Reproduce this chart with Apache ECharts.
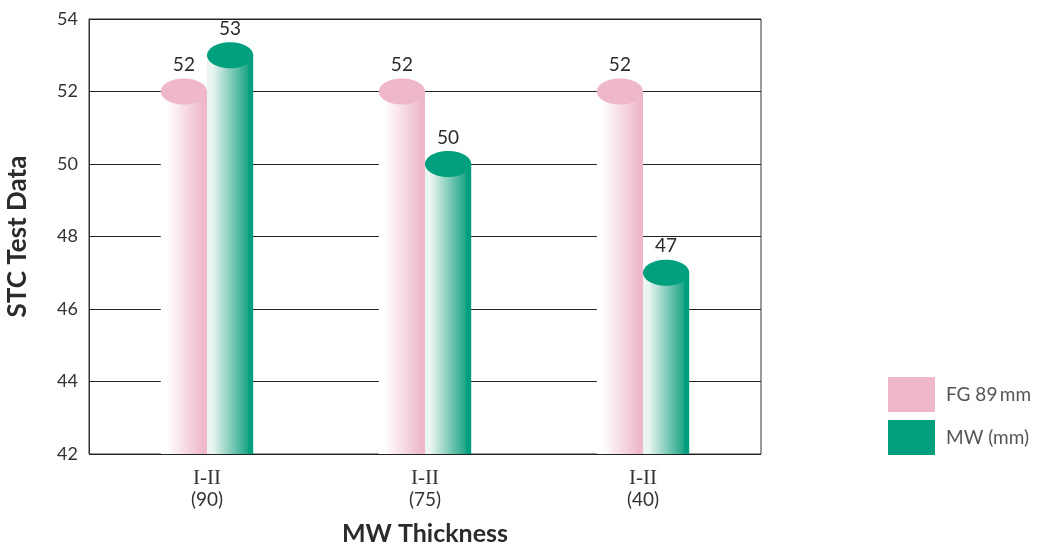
<!DOCTYPE html>
<html><head><meta charset="utf-8">
<script src="https://cdn.jsdelivr.net/npm/echarts@6/dist/echarts.min.js"></script>
<style>html,body{margin:0;padding:0;background:#fff}#c{width:1042px;height:546px}</style>
</head><body><div id="c"></div>
<script>
const categories = ['I-II\n(90)', 'I-II\n(75)', 'I-II\n(40)'];
const fgValues = [52, 52, 52];
const mwValues = [53, 50, 47];
const seriesNames = ['FG 89\u2009mm', 'MW (mm)'];
const yTicks = [42, 44, 46, 48, 50, 52, 54];

const chart = echarts.init(document.getElementById('c'));
const FONT = 'Lato, "Open Sans", sans-serif';
const PINK = '#eeb7cc', GREEN = '#00a07f';

function makeRender(side, light, mid, dark, topColor) {
  return function (params, api) {
    const idx = api.value(0), v = api.value(1);
    const top = api.coord([idx, v]);
    const base = api.coord([idx, yTicks[0]]);
    const band = api.size([1, 0])[0];
    const bw = band * 0.212;
    const x = side < 0 ? top[0] - bw : top[0];
    const ry = 13;
    return {
      type: 'group',
      children: [
        { type: 'rect', shape: { x: x, y: top[1], width: bw, height: base[1] - top[1] },
          style: { fill: new echarts.graphic.LinearGradient(0, 0, 1, 0, [
            { offset: 0, color: light }, { offset: 0.12, color: light },
            { offset: 0.88, color: mid }, { offset: 0.9, color: dark }, { offset: 1, color: dark }]) } },
        { type: 'ellipse', shape: { cx: x + bw / 2, cy: top[1], rx: bw / 2, ry: ry },
          style: { fill: topColor } },
        { type: 'text', style: { text: String(v), x: x + bw / 2, y: top[1] - ry - 4,
          align: 'center', verticalAlign: 'bottom', fill: '#2b2b2b', fontSize: 19, fontFamily: FONT } }
      ]
    };
  };
}

chart.setOption({
  animation: false,
  legend: {
    orient: 'vertical', left: 888, top: 377, padding: 0, itemWidth: 47, itemHeight: 35, itemGap: 8,
    icon: 'rect', textStyle: { fontSize: 19, color: '#555', fontFamily: FONT, padding: [0, 0, 0, 6] },
    data: seriesNames
  },
  grid: [
    { left: 89, right: 281, top: 19, bottom: 92, show: true, borderColor: '#333', borderWidth: 1,
      outerBoundsMode: 'none', containLabel: false },
    { left: 98, right: 290, top: 19, bottom: 92, outerBoundsMode: 'none', containLabel: false }
  ],
  xAxis: [
    { type: 'category', gridIndex: 0, data: categories, show: false },
    { type: 'category', gridIndex: 1, data: categories,
      axisLine: { show: false }, axisTick: { show: false },
      axisLabel: { margin: 13, lineHeight: 22, color: '#333',
        formatter: function (val) { const p = val.split('\n'); return '{a|' + p[0] + '}\n{b|' + p[1] + '}'; },
        rich: { a: { fontFamily: '"Liberation Serif", "DejaVu Serif", serif', fontSize: 21, color: '#333', lineHeight: 22 },
                b: { fontFamily: FONT, fontSize: 19, color: '#333', lineHeight: 22 } } },
      name: 'MW Thickness', nameLocation: 'middle', nameGap: 67,
      nameTextStyle: { fontSize: 25, fontWeight: 'bold', color: '#2b2b2b', fontFamily: FONT } }
  ],
  yAxis: [
    { type: 'value', gridIndex: 0, min: 42, max: 54, interval: 2,
      axisLine: { show: true, lineStyle: { color: '#333', width: 1 } }, axisTick: { show: false },
      splitLine: { lineStyle: { color: '#222', width: 1 } },
      axisLabel: { fontSize: 18, color: '#333', margin: 11, fontFamily: FONT },
      name: 'STC Test Data', nameLocation: 'middle', nameGap: 58,
      nameTextStyle: { fontSize: 26, fontWeight: 'bold', color: '#2b2b2b', fontFamily: FONT } },
    { type: 'value', gridIndex: 1, min: 42, max: 54, interval: 2, show: false }
  ],
  series: [
    { name: seriesNames[0], type: 'custom', xAxisIndex: 1, yAxisIndex: 1, itemStyle: { color: PINK },
      data: fgValues.map((v, i) => [i, v]),
      renderItem: makeRender(-1, '#ffffff', '#efbcd0', '#eeb7cc', PINK) },
    { name: seriesNames[1], type: 'custom', xAxisIndex: 1, yAxisIndex: 1, itemStyle: { color: GREEN },
      data: mwValues.map((v, i) => [i, v]),
      renderItem: makeRender(1, '#eaf5f1', '#1fa686', '#00a07e', GREEN) }
  ]
});
</script></body></html>
